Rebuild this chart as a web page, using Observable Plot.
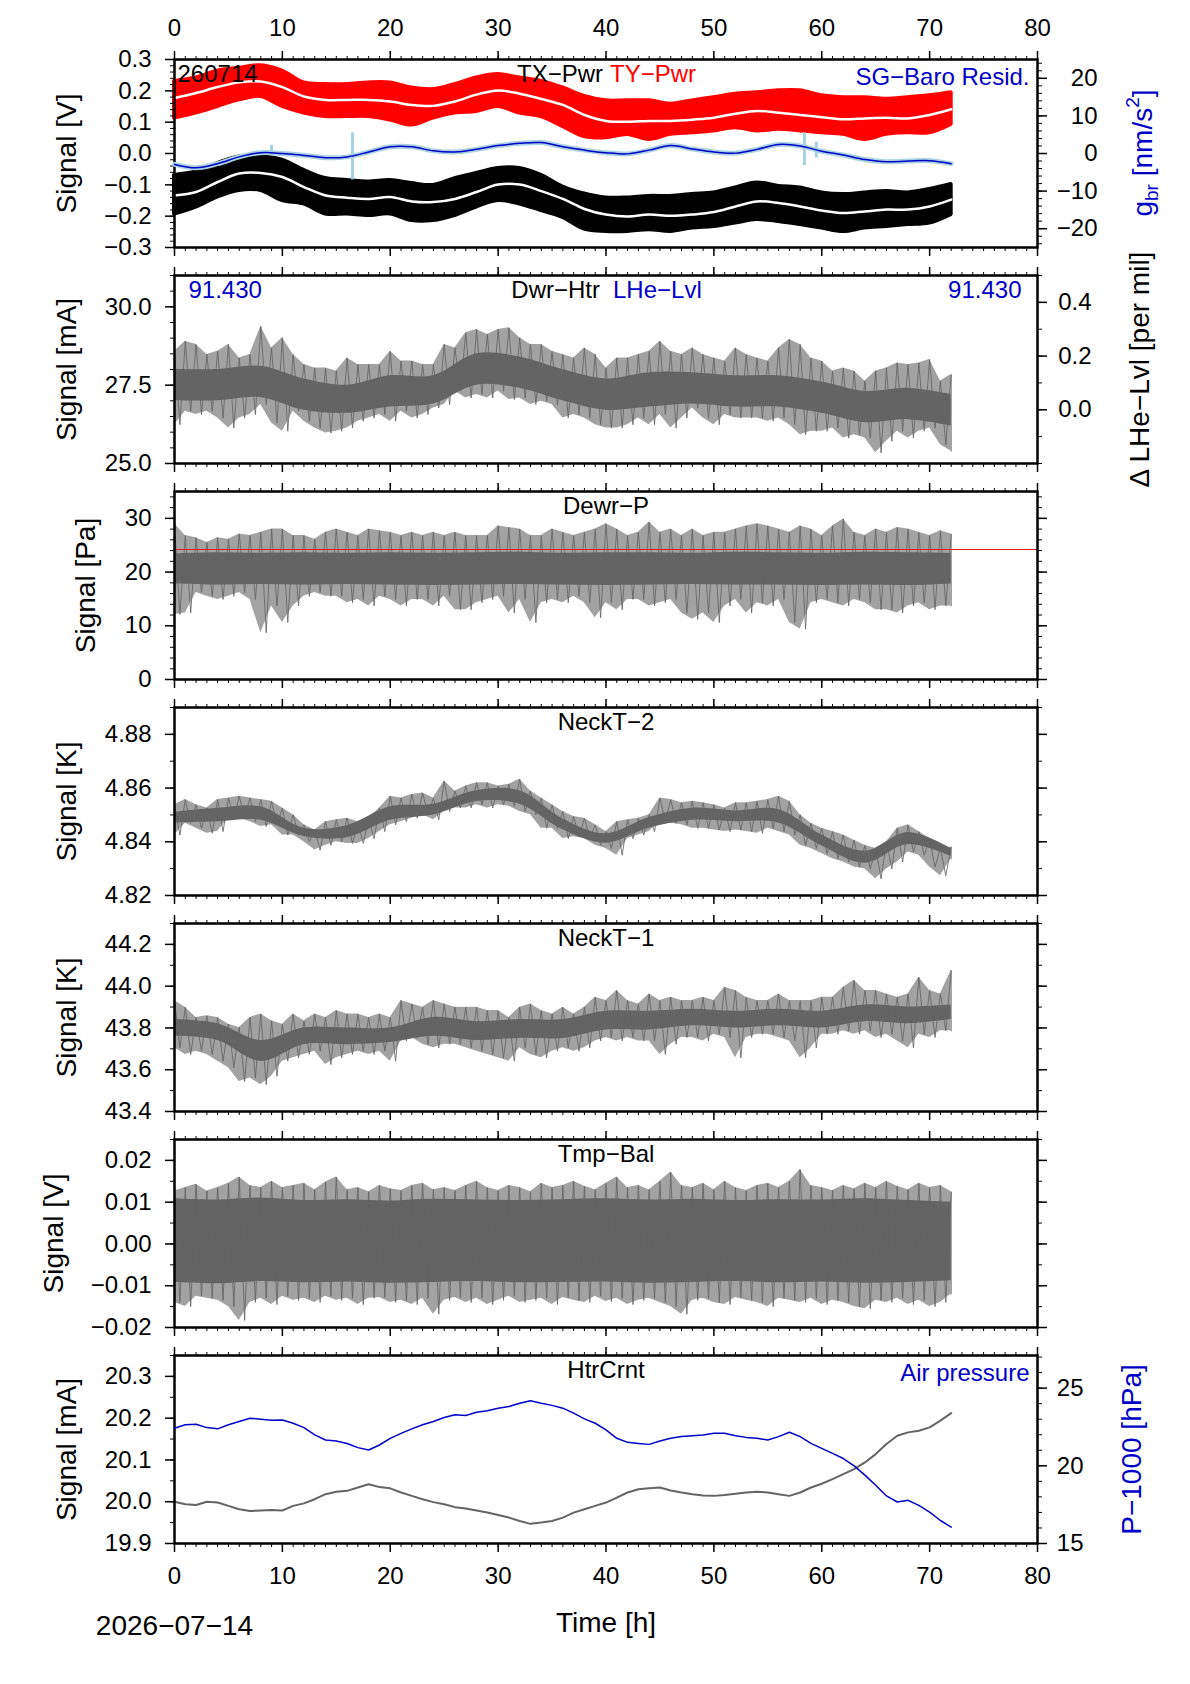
<!DOCTYPE html>
<html><head><meta charset="utf-8"><title>SG housekeeping 260714</title>
<script src="https://cdn.jsdelivr.net/npm/d3@7"></script>
<script src="https://cdn.jsdelivr.net/npm/@observablehq/plot@0.6"></script>
<style>
html,body{margin:0;padding:0;background:#fff;}
#chart{position:relative;width:1190px;height:1684px;background:#fff;overflow:hidden;}
#chart svg{position:absolute;left:0;}
</style></head><body><div id="chart"></div>
<script>
// ---------------- time grids [h] ----------------
const T1 = d3.range(0, 73, 1);   // hourly
const T2 = d3.range(0, 73, 2);   // every 2 h
const T4 = d3.range(0, 73, 4);   // every 4 h

// ---------------- panel 1: TX/TY power [V], SG-Baro residual [nm/s^2] ----------------
const tyTop = [0.230,0.241,0.263,0.272,0.280,0.263,0.225,0.220,0.220,0.225,0.225,0.209,0.204,0.220,0.241,0.252,0.241,0.230,0.209,0.182,0.168,0.168,0.168,0.157,0.168,0.178,0.189,0.194,0.200,0.200,0.184,0.178,0.178,0.173,0.178,0.184,0.194];
const tyBot = [0.113,0.129,0.150,0.171,0.182,0.150,0.129,0.118,0.118,0.118,0.107,0.091,0.113,0.129,0.134,0.150,0.129,0.118,0.086,0.054,0.050,0.061,0.045,0.061,0.066,0.072,0.082,0.072,0.077,0.072,0.066,0.061,0.045,0.061,0.066,0.066,0.093];
const tyMid = [0.177,0.193,0.212,0.227,0.230,0.212,0.182,0.171,0.171,0.171,0.166,0.155,0.152,0.166,0.188,0.201,0.191,0.174,0.155,0.123,0.104,0.101,0.104,0.104,0.108,0.114,0.127,0.136,0.130,0.123,0.116,0.109,0.112,0.114,0.112,0.123,0.141];
const txTop = [-0.070,-0.059,-0.032,-0.011,-0.011,-0.021,-0.054,-0.080,-0.086,-0.091,-0.086,-0.096,-0.102,-0.080,-0.064,-0.048,-0.048,-0.070,-0.107,-0.129,-0.142,-0.142,-0.137,-0.137,-0.131,-0.126,-0.110,-0.094,-0.105,-0.110,-0.126,-0.131,-0.126,-0.121,-0.126,-0.115,-0.099];
const txBot = [-0.193,-0.171,-0.139,-0.118,-0.118,-0.150,-0.161,-0.193,-0.193,-0.198,-0.193,-0.214,-0.214,-0.198,-0.171,-0.150,-0.161,-0.182,-0.204,-0.241,-0.249,-0.249,-0.243,-0.249,-0.238,-0.233,-0.222,-0.211,-0.217,-0.227,-0.238,-0.249,-0.238,-0.233,-0.227,-0.222,-0.195];
const txMid = [-0.134,-0.123,-0.091,-0.064,-0.062,-0.075,-0.107,-0.134,-0.141,-0.145,-0.139,-0.153,-0.155,-0.145,-0.123,-0.099,-0.099,-0.120,-0.145,-0.177,-0.195,-0.201,-0.195,-0.199,-0.195,-0.187,-0.169,-0.153,-0.158,-0.169,-0.182,-0.190,-0.185,-0.179,-0.179,-0.169,-0.147];
const sgResid = [-2.9,-3.8,-2.7,-0.9,0.2,0.0,-0.5,-1.1,-0.9,0.4,1.8,1.8,0.7,0.4,1.1,2.1,2.7,2.9,1.8,0.9,0.2,-0.1,0.9,2.1,1.2,0.4,0.1,1.1,2.4,2.0,0.6,-0.4,-1.6,-2.2,-2.0,-1.9,-2.7];
const sgSpikeT  = [9.0, 16.5, 58.4, 59.5];
const sgSpikeLo = [-0.5, -7.0, -3.2, -1.2];
const sgSpikeHi = [2.2, 5.5, 5.5, 3.0];

// ---------------- panel 2: Dwr-Htr [mA] ----------------
const dwrHi = [28.58,28.90,28.80,28.48,28.58,28.80,28.37,28.48,29.38,28.69,
  29.01,28.48,28.16,28.05,28.05,27.95,28.37,28.16,28.16,28.16,
  28.58,28.27,28.27,28.16,28.16,28.80,28.69,29.17,29.28,29.12,
  29.28,29.33,29.01,28.80,28.80,28.58,28.48,28.37,28.69,28.48,
  28.05,28.37,28.37,28.48,28.58,28.90,28.58,28.48,28.69,28.48,
  28.37,28.27,28.69,28.48,28.37,28.27,28.69,28.96,28.80,28.37,
  28.27,27.95,28.05,27.95,27.63,27.95,28.05,28.21,28.16,28.21,
  28.32,27.63,27.84];
const dwrLo = [26.24,26.67,26.56,26.67,26.45,26.13,26.45,26.56,26.88,26.29,
  26.03,26.67,26.35,26.13,25.97,26.03,26.13,26.35,26.45,26.56,
  26.35,26.67,26.45,26.56,26.77,26.88,27.31,27.09,27.20,27.09,
  27.31,27.04,27.09,26.88,26.99,26.88,26.45,26.56,26.45,26.24,
  26.13,26.13,26.24,26.45,26.24,26.56,26.13,26.45,26.77,26.45,
  26.24,26.56,26.45,26.45,26.45,26.35,26.45,26.24,25.92,26.03,
  26.03,26.13,25.81,25.92,25.81,25.34,25.71,26.03,25.81,26.03,
  26.13,25.60,25.39];
const dwrCoreHi = [28.0,28.0,28.1,27.7,27.5,27.8,27.8,28.5,28.4,28.0,27.7,27.9,27.9,27.8,27.8,27.6,27.3,27.4,27.2];
const dwrCoreLo = [27.0,27.0,27.1,26.7,26.6,26.8,26.9,27.5,27.4,27.0,26.7,26.8,26.9,26.8,26.8,26.6,26.3,26.4,26.2];
const lheLvlText = "91.430";

// ---------------- panel 3: Dewr-P [Pa] ----------------
const dewrHi = [29.0,26.8,26.4,25.5,26.4,26.1,27.1,26.8,27.4,28.0,
  28.0,26.8,26.8,26.1,27.4,28.0,27.4,26.8,28.0,27.7,
  27.4,26.8,27.4,26.8,27.4,26.8,27.4,26.8,26.8,26.8,
  28.6,28.3,28.0,26.8,26.8,28.0,27.4,26.8,27.4,28.0,
  29.0,28.0,26.8,27.4,29.3,27.4,28.0,26.8,28.0,26.8,
  27.4,27.4,28.0,28.6,29.0,28.6,28.0,27.4,28.6,28.0,
  26.8,28.6,29.9,27.4,26.8,28.0,27.4,28.3,28.0,27.4,
  26.8,27.7,27.1];
const dewrLo = [12.1,12.4,16.2,15.5,14.9,15.5,16.2,14.9,8.7,13.7,
  10.6,13.7,15.5,16.2,15.5,15.5,14.3,14.9,13.7,15.5,
  14.9,13.7,14.9,14.9,13.7,15.5,13.0,13.0,14.3,14.9,
  15.5,12.4,14.9,10.6,14.3,14.9,14.3,15.5,14.3,11.5,
  14.3,13.0,14.9,14.9,13.7,14.3,14.9,12.4,11.2,12.4,
  10.6,13.7,14.9,12.4,14.3,13.7,14.9,10.6,9.4,14.3,
  14.9,14.3,13.7,14.9,14.3,13.0,13.0,12.4,13.7,14.3,
  13.0,13.7,13.7];
const dewrCoreHi = [23.4,23.6,23.5,23.6,23.5,23.6,23.5,23.6,23.7,23.5,23.6,23.6,23.5,23.7,23.6,23.5,23.7,23.6,23.5];
const dewrCoreLo = [17.8,17.6,17.7,17.6,17.7,17.6,17.5,17.6,17.7,17.6,17.5,17.6,17.7,17.6,17.6,17.5,17.6,17.5,17.8];
const dewrRef = [24.2];

// ---------------- panel 4: NeckT-2 [K] ----------------
const neck2Hi = [4.8538,4.8557,4.8538,4.8526,4.8557,4.8563,4.8570,4.8563,4.8557,4.8551,
  4.8526,4.8501,4.8463,4.8444,4.8475,4.8482,4.8488,4.8475,4.8488,4.8526,
  4.8570,4.8563,4.8576,4.8582,4.8563,4.8626,4.8589,4.8608,4.8620,4.8620,
  4.8608,4.8614,4.8633,4.8589,4.8563,4.8538,4.8513,4.8494,4.8488,4.8463,
  4.8438,4.8475,4.8482,4.8488,4.8501,4.8563,4.8557,4.8545,4.8551,4.8545,
  4.8538,4.8526,4.8545,4.8545,4.8551,4.8557,4.8570,4.8551,4.8501,4.8469,
  4.8450,4.8438,4.8425,4.8406,4.8387,4.8375,4.8400,4.8450,4.8463,4.8438,
  4.8412,4.8375,4.8381];
const neck2Lo = [4.8425,4.8469,4.8450,4.8432,4.8438,4.8488,4.8488,4.8475,4.8457,4.8463,
  4.8425,4.8425,4.8400,4.8369,4.8387,4.8400,4.8394,4.8394,4.8412,4.8438,
  4.8463,4.8475,4.8488,4.8501,4.8482,4.8513,4.8526,4.8526,4.8538,4.8526,
  4.8538,4.8532,4.8513,4.8501,4.8450,4.8450,4.8412,4.8419,4.8412,4.8387,
  4.8375,4.8350,4.8412,4.8425,4.8438,4.8475,4.8469,4.8463,4.8450,4.8450,
  4.8444,4.8438,4.8444,4.8438,4.8432,4.8450,4.8438,4.8425,4.8387,4.8375,
  4.8356,4.8337,4.8325,4.8306,4.8299,4.8262,4.8299,4.8325,4.8362,4.8350,
  4.8306,4.8274,4.8337];
const neck2CoreHi = [4.8510,4.8525,4.8530,4.8450,4.8460,4.8530,4.8540,4.8590,4.8590,4.8485,4.8430,4.8490,4.8525,4.8515,4.8520,4.8425,4.8365,4.8435,4.8375];
const neck2CoreLo = [4.8470,4.8475,4.8480,4.8420,4.8415,4.8480,4.8500,4.8550,4.8540,4.8445,4.8395,4.8450,4.8480,4.8475,4.8470,4.8385,4.8320,4.8390,4.8345];

// ---------------- panel 5: NeckT-1 [K] ----------------
const neck1Hi = [43.931,43.899,43.850,43.858,43.850,43.818,43.802,43.850,43.867,43.834,
  43.818,43.867,43.834,43.867,43.850,43.883,43.867,43.867,43.850,43.867,
  43.850,43.931,43.915,43.899,43.931,43.915,43.899,43.899,43.899,43.883,
  43.883,43.850,43.899,43.915,43.883,43.867,43.899,43.867,43.899,43.947,
  43.931,43.979,43.931,43.915,43.963,43.931,43.947,43.931,43.931,43.947,
  43.931,43.995,43.979,43.947,43.931,43.931,43.963,43.931,43.931,43.931,
  43.947,43.947,43.995,44.028,43.979,43.979,43.963,43.947,43.963,44.043,
  43.979,43.963,44.076];
const neck1Lo = [43.705,43.673,43.689,43.673,43.641,43.609,43.544,43.560,43.528,43.569,
  43.641,43.657,43.673,43.689,43.625,43.657,43.673,43.689,43.673,43.689,
  43.641,43.738,43.754,43.722,43.705,43.722,43.722,43.705,43.689,43.673,
  43.657,43.641,43.705,43.673,43.657,43.689,43.705,43.689,43.705,43.738,
  43.754,43.738,43.754,43.738,43.738,43.673,43.722,43.754,43.754,43.738,
  43.770,43.754,43.657,43.754,43.770,43.770,43.754,43.738,43.657,43.705,
  43.770,43.770,43.786,43.770,43.786,43.754,43.770,43.738,43.705,43.770,
  43.754,43.786,43.786];
const neck1CoreHi = [43.84,43.82,43.74,43.80,43.80,43.80,43.85,43.83,43.84,43.84,43.88,43.88,43.89,43.88,43.89,43.88,43.91,43.90,43.91];
const neck1CoreLo = [43.76,43.74,43.64,43.72,43.72,43.73,43.76,43.74,43.75,43.75,43.79,43.79,43.81,43.80,43.81,43.80,43.83,43.82,43.84];

// ---------------- panel 6: Tmp-Bal [V] ----------------
const tmpHi = [0.0127,0.0135,0.0143,0.0127,0.0135,0.0145,0.0160,0.0140,0.0135,0.0150,
  0.0135,0.0140,0.0145,0.0130,0.0148,0.0160,0.0130,0.0135,0.0125,0.0140,
  0.0132,0.0128,0.0140,0.0145,0.0130,0.0135,0.0128,0.0140,0.0150,0.0135,
  0.0128,0.0140,0.0135,0.0125,0.0145,0.0135,0.0140,0.0150,0.0138,0.0130,
  0.0145,0.0160,0.0135,0.0140,0.0130,0.0150,0.0172,0.0140,0.0135,0.0145,
  0.0130,0.0150,0.0135,0.0128,0.0140,0.0145,0.0135,0.0150,0.0178,0.0140,
  0.0135,0.0128,0.0140,0.0132,0.0145,0.0135,0.0150,0.0138,0.0130,0.0145,
  0.0135,0.0140,0.0125];
const tmpLo = [-0.0140,-0.0150,-0.0125,-0.0130,-0.0135,-0.0150,-0.0183,-0.0140,-0.0130,-0.0145,
  -0.0125,-0.0135,-0.0130,-0.0140,-0.0125,-0.0135,-0.0130,-0.0145,-0.0130,-0.0128,
  -0.0140,-0.0135,-0.0145,-0.0130,-0.0168,-0.0135,-0.0128,-0.0140,-0.0130,-0.0145,
  -0.0135,-0.0125,-0.0140,-0.0135,-0.0130,-0.0145,-0.0128,-0.0135,-0.0140,-0.0125,
  -0.0138,-0.0130,-0.0145,-0.0135,-0.0130,-0.0140,-0.0150,-0.0168,-0.0135,-0.0130,
  -0.0140,-0.0145,-0.0128,-0.0135,-0.0140,-0.0150,-0.0130,-0.0135,-0.0140,-0.0130,
  -0.0145,-0.0135,-0.0140,-0.0150,-0.0155,-0.0135,-0.0140,-0.0130,-0.0145,-0.0135,
  -0.0150,-0.0140,-0.0120];
const tmpCoreHi = [0.0108,0.0105,0.0110,0.0104,0.0106,0.0103,0.0107,0.0105,0.0104,0.0106,0.0108,0.0105,0.0107,0.0104,0.0106,0.0105,0.0108,0.0104,0.0100];
const tmpCoreLo = [-0.0092,-0.0095,-0.0090,-0.0093,-0.0091,-0.0094,-0.0092,-0.0090,-0.0093,-0.0092,-0.0091,-0.0094,-0.0092,-0.0090,-0.0093,-0.0091,-0.0094,-0.0092,-0.0088];

// ---------------- panel 7: HtrCrnt [mA], air pressure P-1000 [hPa] ----------------
const htrCrnt = [20.000,19.994,19.992,20.000,19.998,19.990,19.982,19.978,19.979,19.980,
  19.979,19.990,19.996,20.006,20.018,20.024,20.026,20.034,20.042,20.035,
  20.032,20.022,20.014,20.006,19.999,19.994,19.987,19.984,19.979,19.974,
  19.968,19.962,19.954,19.947,19.950,19.954,19.962,19.974,19.982,19.990,
  19.998,20.010,20.022,20.030,20.032,20.034,20.027,20.022,20.018,20.015,
  20.014,20.016,20.019,20.022,20.024,20.022,20.018,20.014,20.022,20.034,
  20.043,20.054,20.066,20.078,20.094,20.114,20.138,20.158,20.166,20.170,
  20.178,20.194,20.212];
const airP = [22.42,22.64,22.68,22.46,22.38,22.64,22.85,23.06,23.00,22.93,
  22.95,22.74,22.46,21.99,21.66,21.60,21.44,21.17,21.02,21.34,
  21.77,22.09,22.38,22.64,22.85,23.11,23.28,23.24,23.45,23.54,
  23.71,23.82,24.03,24.19,24.03,23.89,23.71,23.39,23.02,22.74,
  22.31,21.77,21.51,21.44,21.38,21.60,21.77,21.88,21.94,21.99,
  22.09,22.09,21.94,21.83,21.77,21.66,21.88,22.16,21.88,21.44,
  21.12,20.80,20.47,20.00,19.40,18.75,18.06,17.67,17.78,17.45,
  17.02,16.48,16.05];

// ---------------- axis tick values ----------------
const X_MAJOR = [0,10,20,30,40,50,60,70,80];
const X_MINOR = d3.range(0, 81, 1);

// ---------------- layout / style ----------------
const FONT = "'Liberation Sans', Arial, Helvetica, sans-serif";
const W = 1190, FL = 174, FR = 1037, PH = 188, STEP = 216, TOP0 = 59;
const GRAY = "#646464", RED = "#ff0000", BLUE = "#0000c8", LBLUE = "#a8d2e2";
const FS = 24, FT = 28;
const blank = () => "";
const chart = document.getElementById("chart");

function plotPanel(k, mt, mb, y, marks, overlay = false) {
  const svg = Plot.plot({
    width: W, height: PH + mt + mb,
    marginLeft: FL, marginRight: W - FR, marginTop: mt, marginBottom: mb,
    style: {fontFamily: FONT, fontSize: FS + "px", color: "black", background: "transparent", overflow: "visible"},
    x: overlay ? {domain: [0, 80], axis: null} : {domain: [0, 80], label: null},
    y: {...y, label: null},
    marks
  });
  svg.style.position = "absolute";
  svg.style.left = "0px";
  svg.style.top = (TOP0 + k * STEP - mt) + "px";
  chart.appendChild(svg);
  return svg;
}

function xAxes(top, bottom) {
  return [
    Plot.axisX({anchor: "top", ticks: X_MINOR, tickSize: 4, tickFormat: blank, label: null}),
    Plot.axisX({anchor: "top", ticks: X_MAJOR, tickSize: 9, tickPadding: 15, strokeWidth: 1.5, tickFormat: top ? d3.format("d") : blank, label: null}),
    Plot.axisX({anchor: "bottom", ticks: X_MINOR, tickSize: 4, tickFormat: blank, label: null}),
    Plot.axisX({anchor: "bottom", ticks: X_MAJOR, tickSize: 9, tickPadding: 14, strokeWidth: 1.5, tickFormat: bottom ? d3.format("d") : blank, label: null})
  ];
}
function yLeft(major, minor, fmt, mirror) {
  const m = [
    Plot.axisY({anchor: "left", ticks: minor, tickSize: 4, tickFormat: blank, label: null}),
    Plot.axisY({anchor: "left", ticks: major, tickSize: 9, tickPadding: 14, strokeWidth: 1.5, tickFormat: fmt, label: null})
  ];
  if (mirror) m.push(
    Plot.axisY({anchor: "right", ticks: minor, tickSize: 4, tickFormat: blank, label: null}),
    Plot.axisY({anchor: "right", ticks: major, tickSize: 9, strokeWidth: 1.5, tickFormat: blank, label: null}));
  return m;
}
function yRight(major, minor, fmt, pad) {
  return [
    Plot.axisY({anchor: "right", ticks: minor, tickSize: 4, tickFormat: blank, label: null}),
    Plot.axisY({anchor: "right", ticks: major, tickSize: 9, tickPadding: pad, textAnchor: "end", strokeWidth: 1.5, tickFormat: fmt, label: null})
  ];
}
const label = (s, opts) => Plot.text([s], {text: d => d, fontSize: FS, lineAnchor: "middle", ...opts});
const title = (s, opts = {}) => label(s, {frameAnchor: "top", dy: 15, ...opts});
const yTitle = (s, x, fill = "black") => Plot.text([s], {text: d => d, frameAnchor: "left", dx: x - FL, rotate: -90, textAnchor: "middle", lineAnchor: "middle", fontSize: FT, fill});
const yTitleR = (s, x, fill = "black") => Plot.text([s], {text: d => d, frameAnchor: "right", dx: x - FR, rotate: -90, textAnchor: "middle", lineAnchor: "middle", fontSize: FT, fill});

function noise(hi, lo, coreHi, coreLo) {
  const zig = [];
  T1.forEach((t, i) => { zig.push({t, v: hi[i]}); zig.push({t: Math.min(t + 0.5, 72), v: lo[i]}); });
  const core = T4.map((t, i) => ({t, hi: coreHi[i], lo: coreLo[i]}));
  const env = T1.map((t, i) => ({t, hi: hi[i], lo: lo[i]}));
  return [
    Plot.areaY(env, {x: "t", y1: "lo", y2: "hi", fill: GRAY, fillOpacity: 0.6}),
    Plot.areaY(core, {x: "t", y1: "lo", y2: "hi", fill: GRAY, curve: "catmull-rom"}),
    Plot.line(zig, {x: "t", y: "v", stroke: GRAY, strokeWidth: 1, strokeOpacity: 0.85})
  ];
}

// ---------------- Panel 1 ----------------
const p1 = T2.map((t, i) => ({t, tyTop: tyTop[i], tyBot: tyBot[i], tyMid: tyMid[i],
  txTop: txTop[i], txBot: txBot[i], txMid: txMid[i], sg: sgResid[i]}));
const sgSpikes = sgSpikeT.map((t, i) => ({t, lo: sgSpikeLo[i], hi: sgSpikeHi[i]}));

plotPanel(0, 59, 14, {domain: [-0.3, 0.3]}, [
  Plot.areaY(p1, {x: "t", y1: "tyBot", y2: "tyTop", fill: RED, stroke: RED, strokeWidth: 4, strokeLinejoin: "round", curve: "catmull-rom"}),
  Plot.line(p1, {x: "t", y: "tyMid", stroke: "white", strokeWidth: 2.5, curve: "catmull-rom"}),
  Plot.areaY(p1, {x: "t", y1: "txBot", y2: "txTop", fill: "black", stroke: "black", strokeWidth: 4, strokeLinejoin: "round", curve: "catmull-rom"}),
  Plot.line(p1, {x: "t", y: "txMid", stroke: "white", strokeWidth: 2.5, curve: "catmull-rom"}),
  label("260714", {frameAnchor: "top-left", dx: 3, dy: 15, textAnchor: "start"}),
  title("TX−Pwr", {textAnchor: "end", dx: -3}),
  title("TY−Pwr", {textAnchor: "start", dx: 4, fill: RED}),
  yTitle("Signal [V]", 67),
  Plot.frame({strokeWidth: 2.5}),
  ...xAxes(true, false),
  ...yLeft([-0.3, -0.2, -0.1, 0, 0.1, 0.2, 0.3], d3.range(-0.3, 0.301, 0.02), d3.format(".1f"), false)
]);
const ov1 = plotPanel(0, 59, 14, {domain: [-25, 25]}, [
  Plot.line(p1, {x: "t", y: "sg", stroke: LBLUE, strokeWidth: 5, curve: "catmull-rom"}),
  Plot.ruleX(sgSpikes, {x: "t", y1: "lo", y2: "hi", stroke: LBLUE, strokeWidth: 3}),
  Plot.line(p1, {x: "t", y: "sg", stroke: BLUE, strokeWidth: 1.5, curve: "catmull-rom"}),
  label("SG−Baro Resid.", {frameAnchor: "top-right", dx: -8, dy: 18, textAnchor: "end", fill: BLUE}),
  ...yRight([-20, -10, 0, 10, 20], d3.range(-24, 25, 2), d3.format("d"), 51)
], true);
{
  const g = d3.select(ov1).append("text")
    .attr("transform", `translate(1145,${59 + PH / 2}) rotate(-90)`)
    .attr("text-anchor", "middle").attr("dominant-baseline", "middle")
    .attr("fill", BLUE).attr("font-size", FT).attr("font-family", FONT);
  g.append("tspan").text("g");
  g.append("tspan").attr("font-size", 19).attr("dy", 8).text("br");
  g.append("tspan").attr("dy", -8).text(" [nm/s");
  g.append("tspan").attr("font-size", 19).attr("dy", -11).text("2");
  g.append("tspan").attr("dy", 11).text("]");
}

// ---------------- Panel 2 ----------------
plotPanel(1, 14, 14, {domain: [25, 31]}, [
  ...noise(dwrHi, dwrLo, dwrCoreHi, dwrCoreLo),
  label(lheLvlText, {frameAnchor: "top-left", dx: 14, dy: 15, textAnchor: "start", fill: BLUE}),
  label(lheLvlText, {frameAnchor: "top-right", dx: -16, dy: 15, textAnchor: "end", fill: BLUE}),
  title("Dwr−Htr", {textAnchor: "end", dx: -6}),
  title("LHe−Lvl", {textAnchor: "start", dx: 7, fill: BLUE}),
  yTitle("Signal [mA]", 67),
  Plot.frame({strokeWidth: 2.5}),
  ...xAxes(false, false),
  ...yLeft([25, 27.5, 30], d3.range(25, 31.01, 0.5), d3.format(".1f"), false)
]);
plotPanel(1, 14, 14, {domain: [-0.2, 0.5]}, [
  yTitleR("Δ LHe−Lvl [per mil]", 1140),
  ...yRight([0, 0.2, 0.4], d3.range(-0.2, 0.51, 0.1), d3.format(".1f"), 45)
], true);

// ---------------- Panel 3 ----------------
plotPanel(2, 14, 14, {domain: [0, 35]}, [
  ...noise(dewrHi, dewrLo, dewrCoreHi, dewrCoreLo),
  Plot.ruleY(dewrRef, {stroke: "#e02020", strokeWidth: 1}),
  title("Dewr−P"),
  yTitle("Signal [Pa]", 86),
  Plot.frame({strokeWidth: 2.5}),
  ...xAxes(false, false),
  ...yLeft([0, 10, 20, 30], d3.range(0, 35.1, 2), d3.format("d"), true)
]);

// ---------------- Panel 4 ----------------
plotPanel(3, 14, 14, {domain: [4.82, 4.89]}, [
  ...noise(neck2Hi, neck2Lo, neck2CoreHi, neck2CoreLo),
  title("NeckT−2"),
  yTitle("Signal [K]", 67),
  Plot.frame({strokeWidth: 2.5}),
  ...xAxes(false, false),
  ...yLeft([4.82, 4.84, 4.86, 4.88], d3.range(4.82, 4.8905, 0.01), d3.format(".2f"), true)
]);

// ---------------- Panel 5 ----------------
plotPanel(4, 14, 14, {domain: [43.4, 44.3]}, [
  ...noise(neck1Hi, neck1Lo, neck1CoreHi, neck1CoreLo),
  title("NeckT−1"),
  yTitle("Signal [K]", 67),
  Plot.frame({strokeWidth: 2.5}),
  ...xAxes(false, false),
  ...yLeft([43.4, 43.6, 43.8, 44.0, 44.2], d3.range(43.4, 44.305, 0.1), d3.format(".1f"), true)
]);

// ---------------- Panel 6 ----------------
plotPanel(5, 14, 14, {domain: [-0.02, 0.025]}, [
  ...noise(tmpHi, tmpLo, tmpCoreHi, tmpCoreLo),
  title("Tmp−Bal"),
  yTitle("Signal [V]", 54),
  Plot.frame({strokeWidth: 2.5}),
  ...xAxes(false, false),
  ...yLeft([-0.02, -0.01, 0, 0.01, 0.02], d3.range(-0.02, 0.02501, 0.005), d3.format(".2f"), true)
]);

// ---------------- Panel 7 ----------------
const p7 = T1.map((t, i) => ({t, htr: htrCrnt[i], p: airP[i]}));
plotPanel(6, 14, 141, {domain: [19.9, 20.35]}, [
  Plot.line(p7, {x: "t", y: "htr", stroke: GRAY, strokeWidth: 2}),
  title("HtrCrnt"),
  label("Air pressure", {frameAnchor: "top-right", dx: -8, dy: 18, textAnchor: "end", fill: BLUE}),
  yTitle("Signal [mA]", 67),
  Plot.text(["Time [h]"], {text: d => d, frameAnchor: "bottom", dy: 80, lineAnchor: "middle", fontSize: FT}),
  Plot.text(["2026−07−14"], {text: d => d, frameAnchor: "bottom-left", dy: 83, textAnchor: "middle", lineAnchor: "middle", fontSize: FT}),
  Plot.frame({strokeWidth: 2.5}),
  ...xAxes(false, true),
  ...yLeft([19.9, 20.0, 20.1, 20.2, 20.3], d3.range(19.9, 20.3501, 0.05), d3.format(".1f"), false)
]);
plotPanel(6, 14, 141, {domain: [15, 27.1]}, [
  Plot.line(p7, {x: "t", y: "p", stroke: BLUE, strokeWidth: 1.5}),
  yTitleR("P−1000 [hPa]", 1132, BLUE),
  ...yRight([15, 20, 25], d3.range(15, 27.01, 1), d3.format("d"), 37)
], true);
</script></body></html>
